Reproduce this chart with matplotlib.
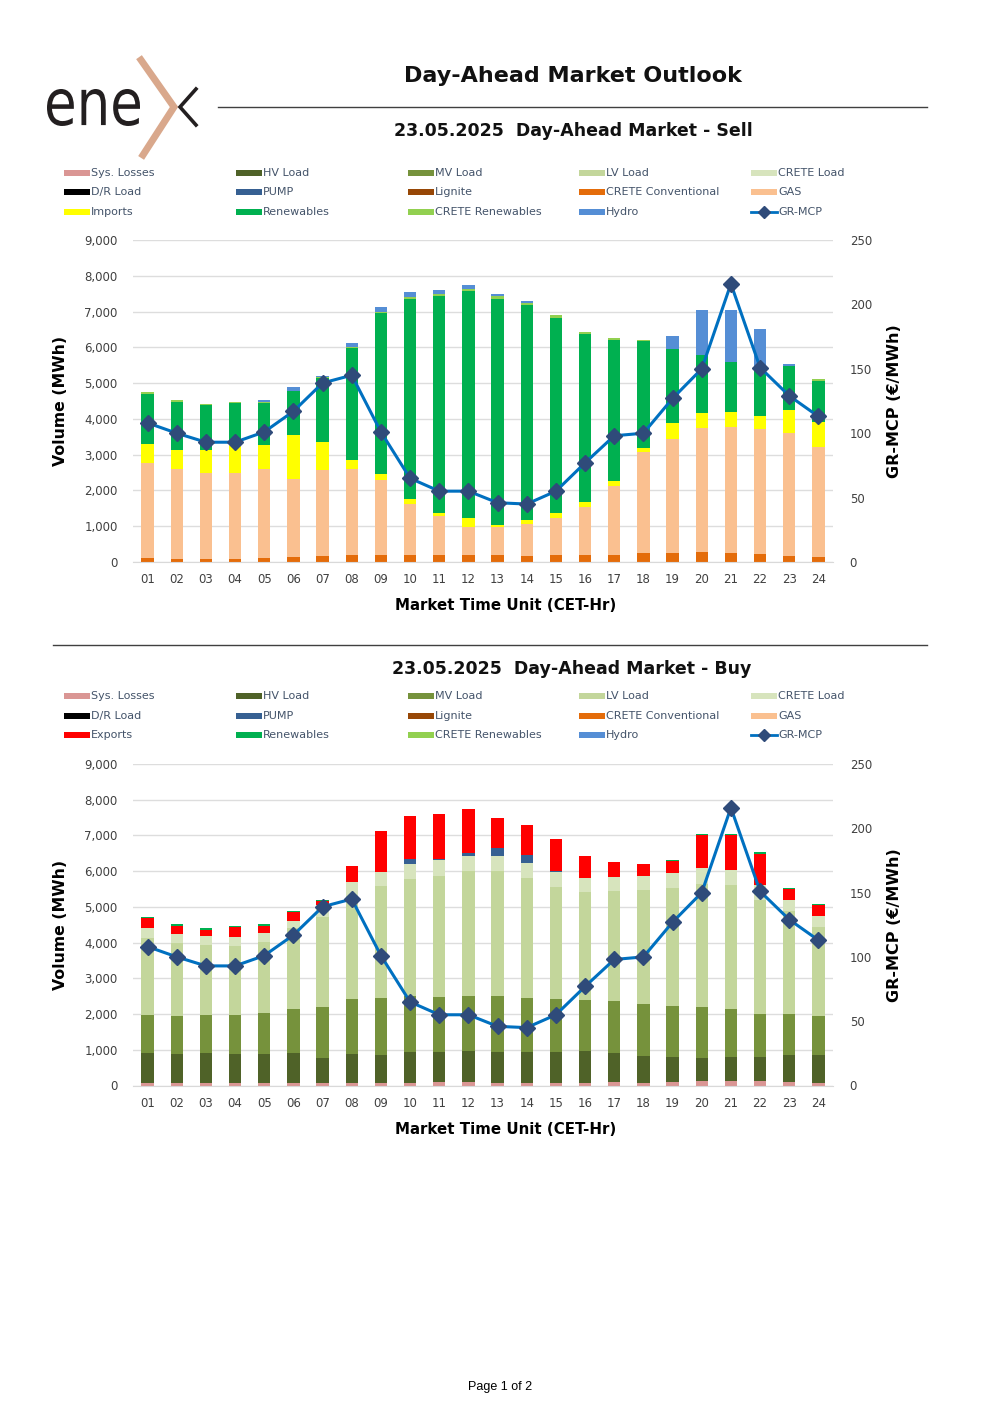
import numpy as np
import matplotlib
matplotlib.use('Agg')
import matplotlib.pyplot as plt
from matplotlib.patches import Rectangle, PathPatch
from matplotlib.lines import Line2D
from matplotlib.textpath import TextPath
from matplotlib.font_manager import FontProperties
from matplotlib.transforms import Affine2D, IdentityTransform

W, H = 1000, 1415
plt.rcParams['font.family'] = ['DejaVu Sans']

hours = ['%02d' % h for h in range(1, 25)]

# GR-MCP (EUR/MWh), same for both charts
mcp = [108, 100, 93, 93, 101, 117, 139, 145, 101, 65, 55, 55,
       46, 45, 55, 77, 98, 100, 127, 150, 216, 151, 129, 113]

# ---- sell side (MWh)
sell_lignite = [0] * 24
sell_crete_conv = [100, 90, 90, 90, 100, 130, 177, 195, 186, 195, 195, 195,
                   186, 177, 186, 186, 205, 242, 261, 279, 261, 223, 177, 130]
sell_gas = [2665, 2517, 2405, 2405, 2507, 2198, 2402, 2393, 2095, 1425, 1080, 792,
            801, 894, 1052, 1341, 1908, 2821, 3184, 3473, 3519, 3492, 3417, 3082]
sell_imports = [521, 530, 624, 785, 670, 1210, 782, 252, 168, 140, 84, 233,
                56, 111, 131, 139, 140, 121, 428, 410, 410, 372, 661, 708]
sell_ren = [1414, 1341, 1257, 1161, 1164, 1229, 1778, 3128, 4506, 5604, 6080, 6349,
            6312, 6005, 5446, 4693, 3938, 2989, 2067, 1610, 1405, 1285, 1210, 1145]
sell_crete_ren = [40, 37, 37, 28, 37, 23, 28, 28, 37, 47, 56, 56,
                  75, 56, 84, 65, 65, 37, 10, 8, 5, 8, 10, 56]
sell_hydro = [0, 0, 0, 0, 47, 88, 37, 130, 139, 130, 102, 121,
              65, 56, 0, 0, 0, 0, 371, 1268, 1448, 1128, 55, 0]

# ---- buy side (MWh)
buy_losses = [74, 74, 74, 74, 74, 74, 74, 60, 60, 74, 90, 102,
              74, 74, 74, 74, 90, 74, 102, 121, 130, 130, 102, 74]
buy_hv = [829, 801, 829, 820, 820, 829, 708, 824, 797, 857, 850, 866,
          866, 866, 866, 885, 832, 764, 708, 661, 680, 680, 755, 773]
buy_mv = [1080, 1080, 1080, 1089, 1126, 1238, 1415, 1537, 1592, 1583, 1546, 1536,
          1555, 1518, 1481, 1434, 1443, 1434, 1406, 1406, 1322, 1201, 1135, 1108]
buy_lv = [2150, 2039, 1946, 1918, 1993, 2279, 2507, 2879, 3128, 3267, 3389, 3501,
          3510, 3361, 3137, 3025, 3081, 3193, 3305, 3454, 3473, 3189, 2880, 2486]
buy_crete = [280, 261, 261, 261, 260, 192, 347, 395, 391, 419, 428, 428,
             428, 409, 410, 382, 401, 410, 428, 437, 437, 411, 328, 307]
buy_dr = [0] * 24
buy_pump = [0, 0, 0, 0, 0, 0, 0, 0, 0, 149, 28, 65,
            224, 214, 46, 0, 0, 0, 0, 0, 0, 0, 0, 0]
buy_exports = [288, 223, 176, 270, 205, 252, 104, 438, 1145, 1183, 1257, 1238,
               819, 848, 875, 615, 400, 335, 335, 922, 968, 857, 298, 307]
buy_ren = [28, 37, 38, 37, 37, 28, 35, 0, 0, 0, 0, 0,
           0, 0, 0, 0, 0, 0, 28, 37, 38, 56, 27, 38]

C = {
    'Sys. Losses': '#DA9694', 'HV Load': '#4F6228', 'MV Load': '#76923C',
    'LV Load': '#C3D69B', 'CRETE Load': '#D7E4BD', 'D/R Load': '#000000',
    'PUMP': '#366092', 'Lignite': '#974706', 'CRETE Conventional': '#E46C0A',
    'GAS': '#FAC090', 'Imports': '#FFFF00', 'Exports': '#FF0000',
    'Renewables': '#00B050', 'CRETE Renewables': '#92D050', 'Hydro': '#558ED5',
}
line_c = '#0070C0'
mark_c = '#2F4B7A'
txt_c = '#404040'
leg_c = '#44546A'


def fx(x):
    return x / W


def fy(y):
    return 1 - y / H


def box(l, t, r, b):
    return [l / W, 1 - b / H, (r - l) / W, (b - t) / H]


fig = plt.figure(figsize=(W / 100, H / 100), dpi=100)


def legend(rows_y, third):
    names = [['Sys. Losses', 'HV Load', 'MV Load', 'LV Load', 'CRETE Load'],
             ['D/R Load', 'PUMP', 'Lignite', 'CRETE Conventional', 'GAS'],
             [third, 'Renewables', 'CRETE Renewables', 'Hydro', 'GR-MCP']]
    xs = [64, 236, 408, 579, 751]
    for r, y in enumerate(rows_y):
        for c, name in enumerate(names[r]):
            x = xs[c]
            if name == 'GR-MCP':
                fig.add_artist(Line2D([fx(x), fx(x + 26)], [fy(y), fy(y)], color=line_c, lw=2))
                fig.add_artist(Line2D([fx(x + 13)], [fy(y)], marker='D', ms=6, color=mark_c))
            else:
                fig.add_artist(Rectangle((fx(x), fy(y + 3)), 26 / W, 6 / H, color=C[name], lw=0))
            fig.text(fx(x + 27), fy(y), name, fontsize=8, color=leg_c, va='center', ha='left')


def chart(rect, layers):
    ax = fig.add_axes(rect)
    xpos = np.arange(24)
    bottom = np.zeros(24)
    for name, vals in layers:
        vals = np.array(vals, dtype=float)
        ax.bar(xpos, vals, 0.42, bottom=bottom, color=C[name], lw=0, zorder=2)
        bottom += vals
    ax.set_xlim(-0.5, 23.5)
    ax.set_ylim(0, 9000)
    ax.set_yticks(range(0, 9001, 1000))
    ax.set_yticklabels(['{:,}'.format(v) for v in range(0, 9001, 1000)])
    ax.grid(axis='y', color='#DDDDDD', lw=1, zorder=0)
    ax.set_xticks(xpos)
    ax.set_xticklabels(hours)
    for s in ['top', 'left', 'right']:
        ax.spines[s].set_visible(False)
    ax.spines['bottom'].set_color('#D9D9D9')
    ax.tick_params(length=0, labelsize=8.5, labelcolor=txt_c, pad=11)
    ax.tick_params(axis='x', pad=8)
    ax.set_ylabel('Volume (MWh)', fontsize=11.3, fontweight='bold')
    ax.yaxis.set_label_coords(-(133 - 68) / 700, 0.5)
    ax.set_xlabel('Market Time Unit (CET-Hr)', fontsize=10.8, fontweight='bold')
    ax.xaxis.set_label_coords((506 - 133) / 700, -36 / (rect[3] * H))
    ax2 = ax.twinx()
    ax2.plot(xpos, mcp, color=line_c, lw=2.2, marker='D', ms=8.5,
             mfc=mark_c, mec=mark_c, zorder=5)
    ax2.set_ylim(0, 250)
    ax2.set_yticks(range(0, 251, 50))
    for s in ['top', 'left', 'right', 'bottom']:
        ax2.spines[s].set_visible(False)
    ax2.tick_params(length=0, labelsize=8.5, labelcolor=txt_c, pad=12)
    ax2.set_ylabel('GR-MCP (€/MWh)', fontsize=11.5, fontweight='bold')
    ax2.yaxis.set_label_coords(1 + (887 - 833) / 700, 0.5)
    return ax


# ---- header / logo
tp = TextPath((0, 0), 'ene', size=100, prop=FontProperties(family='DejaVu Sans'))
ext = tp.get_extents()
sx = 93 / ext.width
sy = 37 / ext.height
tr = Affine2D().translate(-ext.x0, -ext.y0).scale(sx, sy).translate(47, H - 126)
fig.add_artist(PathPatch(tr.transform_path(tp), color='#231F20', lw=0,
                         transform=IdentityTransform()))
fig.add_artist(Line2D([fx(141), fx(174), fx(143)], [fy(60), fy(107), fy(155)],
                      color='#D9A88C', lw=5, solid_joinstyle='miter'))
fig.add_artist(Line2D([fx(196), fx(180), fx(196)], [fy(89), fy(107), fy(125)],
                      color='#231F20', lw=2.6, solid_joinstyle='miter'))

fig.text(fx(573), fy(76), 'Day-Ahead Market Outlook', fontsize=16, fontweight='bold',
         ha='center', va='center', color='#111111')
fig.add_artist(Line2D([fx(218), fx(927)], [fy(107), fy(107)], color='#404040', lw=1))
fig.text(fx(573), fy(131), '23.05.2025  Day-Ahead Market - Sell', fontsize=12.5,
         fontweight='bold', ha='center', va='center', color='#111111')

legend([173, 192, 212], 'Imports')
chart(box(133, 240, 833, 562),
      [('Lignite', sell_lignite), ('CRETE Conventional', sell_crete_conv), ('GAS', sell_gas),
       ('Imports', sell_imports), ('Renewables', sell_ren), ('CRETE Renewables', sell_crete_ren),
       ('Hydro', sell_hydro)])

fig.add_artist(Line2D([fx(53), fx(927)], [fy(645), fy(645)], color='#404040', lw=1))
fig.text(fx(572), fy(669), '23.05.2025  Day-Ahead Market - Buy', fontsize=12.5,
         fontweight='bold', ha='center', va='center', color='#111111')

legend([696, 716, 735], 'Exports')
chart(box(133, 764, 833, 1085.5),
      [('Sys. Losses', buy_losses), ('HV Load', buy_hv), ('MV Load', buy_mv),
       ('LV Load', buy_lv), ('CRETE Load', buy_crete), ('D/R Load', buy_dr),
       ('PUMP', buy_pump), ('Exports', buy_exports), ('Renewables', buy_ren)])

fig.text(fx(500), fy(1387), 'Page 1 of 2', fontsize=9, family='Liberation Sans',
         ha='center', va='center', color='#000000')

fig.savefig('out.png', dpi=100)
